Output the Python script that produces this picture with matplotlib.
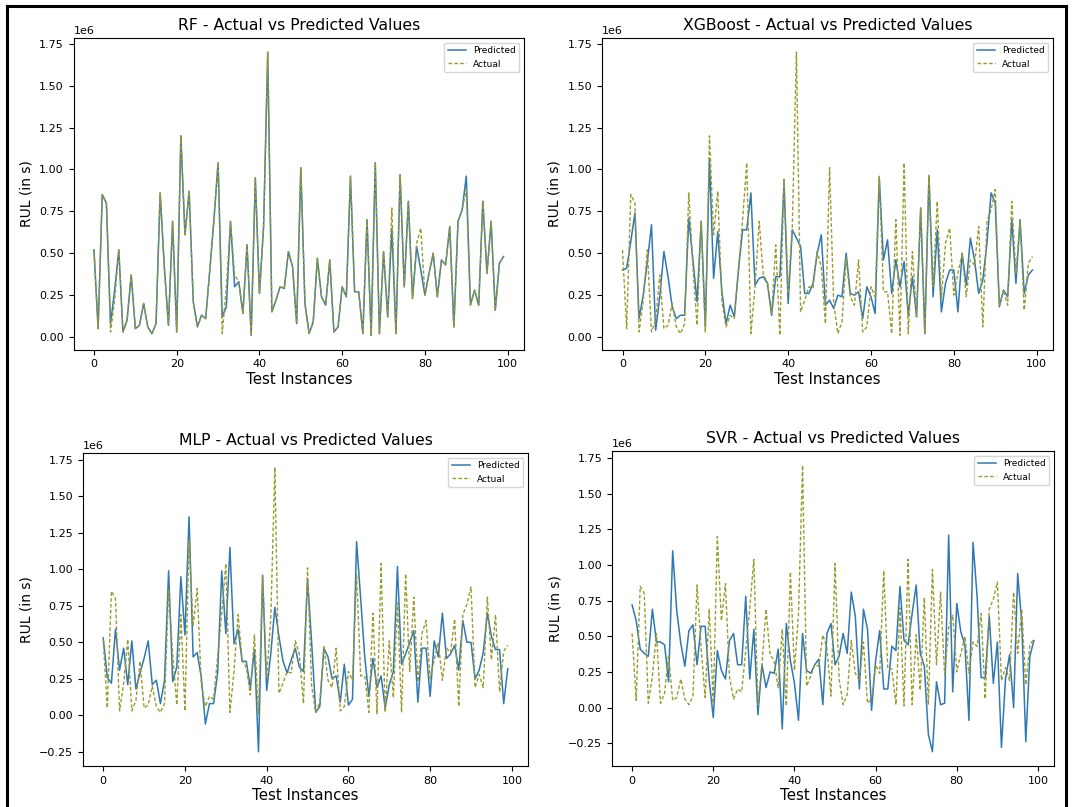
import matplotlib
matplotlib.use("Agg")
import matplotlib.pyplot as plt
from matplotlib.lines import Line2D

# test instances 0..99, values in units of 1e6 seconds
instances = list(range(100))

actual = [0.52, 0.05, 0.85, 0.80, 0.03, 0.22, 0.52, 0.03, 0.10, 0.37,
          0.05, 0.07, 0.20, 0.06, 0.02, 0.08, 0.86, 0.42, 0.07, 0.69,
          0.03, 1.20, 0.61, 0.87, 0.21, 0.06, 0.13, 0.11, 0.40, 0.70,
          1.04, 0.02, 0.30, 0.69, 0.37, 0.33, 0.14, 0.55, 0.01, 0.95,
          0.26, 0.66, 1.70, 0.15, 0.22, 0.30, 0.29, 0.51, 0.42, 0.08,
          1.01, 0.20, 0.02, 0.09, 0.47, 0.24, 0.19, 0.46, 0.03, 0.06,
          0.30, 0.24, 0.96, 0.27, 0.27, 0.02, 0.70, 0.01, 1.04, 0.02,
          0.51, 0.12, 0.77, 0.02, 0.97, 0.30, 0.81, 0.23, 0.56, 0.65,
          0.25, 0.38, 0.50, 0.24, 0.46, 0.43, 0.66, 0.06, 0.69, 0.76,
          0.88, 0.19, 0.28, 0.19, 0.81, 0.38, 0.69, 0.16, 0.44, 0.48]

rf_pred = [0.52, 0.05, 0.85, 0.80, 0.08, 0.28, 0.52, 0.03, 0.10, 0.37,
           0.05, 0.07, 0.20, 0.06, 0.02, 0.08, 0.86, 0.42, 0.07, 0.69,
           0.03, 1.20, 0.61, 0.87, 0.21, 0.06, 0.13, 0.11, 0.40, 0.70,
           1.04, 0.12, 0.18, 0.69, 0.30, 0.33, 0.14, 0.55, 0.01, 0.95,
           0.26, 0.66, 1.70, 0.15, 0.22, 0.30, 0.29, 0.51, 0.42, 0.08,
           1.01, 0.20, 0.02, 0.09, 0.47, 0.24, 0.19, 0.46, 0.03, 0.06,
           0.30, 0.24, 0.96, 0.27, 0.27, 0.02, 0.70, 0.01, 1.04, 0.02,
           0.51, 0.12, 0.65, 0.02, 0.97, 0.30, 0.81, 0.23, 0.54, 0.40,
           0.25, 0.38, 0.50, 0.24, 0.46, 0.43, 0.66, 0.06, 0.69, 0.76,
           0.96, 0.19, 0.28, 0.19, 0.81, 0.38, 0.69, 0.16, 0.44, 0.48]

xgb_pred = [0.40, 0.41, 0.57, 0.74, 0.11, 0.25, 0.45, 0.67, 0.04, 0.24,
            0.51, 0.36, 0.18, 0.11, 0.13, 0.13, 0.71, 0.46, 0.21, 0.69,
            0.06, 1.06, 0.35, 0.63, 0.27, 0.08, 0.19, 0.12, 0.40, 0.64,
            0.64, 0.86, 0.31, 0.35, 0.36, 0.32, 0.13, 0.36, 0.36, 0.92,
            0.20, 0.64, 0.59, 0.54, 0.26, 0.26, 0.32, 0.50, 0.61, 0.19,
            0.22, 0.17, 0.25, 0.24, 0.50, 0.26, 0.25, 0.27, 0.11, 0.30,
            0.24, 0.14, 0.95, 0.46, 0.58, 0.26, 0.46, 0.30, 0.45, 0.13,
            0.36, 0.12, 0.77, 0.02, 0.96, 0.24, 0.64, 0.15, 0.32, 0.40,
            0.40, 0.15, 0.50, 0.31, 0.59, 0.46, 0.26, 0.34, 0.56, 0.86,
            0.80, 0.18, 0.28, 0.24, 0.70, 0.32, 0.70, 0.26, 0.37, 0.40]

mlp_pred = [0.53, 0.26, 0.22, 0.59, 0.31, 0.46, 0.21, 0.51, 0.18, 0.29,
            0.39, 0.51, 0.21, 0.24, 0.08, 0.24, 0.99, 0.23, 0.33, 0.95,
            0.55, 1.36, 0.40, 0.43, 0.26, -0.06, 0.08, 0.08, 0.29, 0.99,
            0.56, 1.15, 0.49, 0.59, 0.37, 0.37, 0.19, 0.45, -0.25, 0.96,
            0.17, 0.42, 0.74, 0.54, 0.37, 0.29, 0.38, 0.46, 0.33, 0.30,
            0.93, 0.50, 0.02, 0.06, 0.46, 0.40, 0.25, 0.27, 0.09, 0.35,
            0.07, 0.11, 1.19, 0.80, 0.40, 0.13, 0.39, 0.19, 0.27, 0.05,
            0.21, 0.30, 1.02, 0.35, 0.42, 0.50, 0.58, 0.09, 0.46, 0.46,
            0.13, 0.51, 0.40, 0.70, 0.39, 0.42, 0.48, 0.31, 0.65, 0.50,
            0.50, 0.25, 0.31, 0.43, 0.70, 0.54, 0.45, 0.45, 0.08, 0.32]

svr_pred = [0.72, 0.61, 0.41, 0.38, 0.36, 0.69, 0.46, 0.46, 0.44, 0.18,
            1.10, 0.68, 0.45, 0.29, 0.54, 0.58, 0.30, 0.57, 0.57, 0.19,
            -0.07, 0.40, 0.26, 0.20, 0.47, 0.52, 0.30, 0.30, 0.78, 0.20,
            0.55, -0.05, 0.30, 0.14, 0.25, 0.24, 0.41, -0.15, 0.59, 0.33,
            0.17, -0.09, 0.52, 0.26, 0.24, 0.30, 0.34, 0.02, 0.52, 0.59,
            0.30, 0.36, 0.52, 0.38, 0.81, 0.64, 0.13, 0.69, 0.55, -0.02,
            0.33, 0.54, 0.13, 0.13, 0.43, 0.40, 0.85, 0.47, 0.44, 0.66,
            0.86, 0.38, 0.29, -0.19, -0.31, 0.18, 0.02, 0.03, 1.21, 0.11,
            0.73, 0.53, 0.44, -0.09, 1.16, 0.78, 0.21, 0.21, 0.64, 0.17,
            0.46, -0.28, 0.20, 0.37, 0.00, 0.94, 0.60, -0.24, 0.36, 0.47]

models = ["RF", "XGBoost", "MLP", "SVR"]
preds = [rf_pred, xgb_pred, mlp_pred, svr_pred]

W, H = 1072, 807
fig = plt.figure(figsize=(W / 100, H / 100), dpi=100)

# axes boxes in pixels: left, right, top, bottom
boxes = [(73.5, 524, 38, 349.5),
         (602, 1053, 38, 349.5),
         (83, 528, 453, 766),
         (612, 1054, 451, 766)]

pred_color = '#3079b3'
act_color = '#9c9a2c'

for name, pred, (l, r, t, b) in zip(models, preds, boxes):
    ax = fig.add_axes([l / W, 1 - b / H, (r - l) / W, (b - t) / H])
    ax.plot(instances, [v * 1e6 for v in pred], color=pred_color, lw=1.1, label='Predicted')
    ax.plot(instances, [v * 1e6 for v in actual], color=act_color, lw=1.0, ls='--',
            dashes=(2.6, 1.6), label='Actual')
    ax.set_title(name + ' - Actual vs Predicted Values', fontsize=11.3)
    ax.set_xlabel('Test Instances', fontsize=10.8, labelpad=2)
    ax.set_ylabel('RUL (in s)', fontsize=10)
    ax.set_xticks([0, 20, 40, 60, 80, 100])
    ax.tick_params(labelsize=8, width=0.8, length=3.5)
    ax.yaxis.get_offset_text().set_fontsize(8)
    ax.legend(loc='upper right', fontsize=6.5)

# frame around the composite
fig.add_artist(Line2D([7 / W, 7 / W], [0, 1 - 6 / H], transform=fig.transFigure, color='black', lw=2.2))
fig.add_artist(Line2D([7 / W, 1066 / W], [1 - 6 / H, 1 - 6 / H], transform=fig.transFigure, color='black', lw=2.2))
fig.add_artist(Line2D([1066 / W, 1066 / W], [0, 1 - 6 / H], transform=fig.transFigure, color='black', lw=2.2))

plt.savefig('out.png', dpi=100)
